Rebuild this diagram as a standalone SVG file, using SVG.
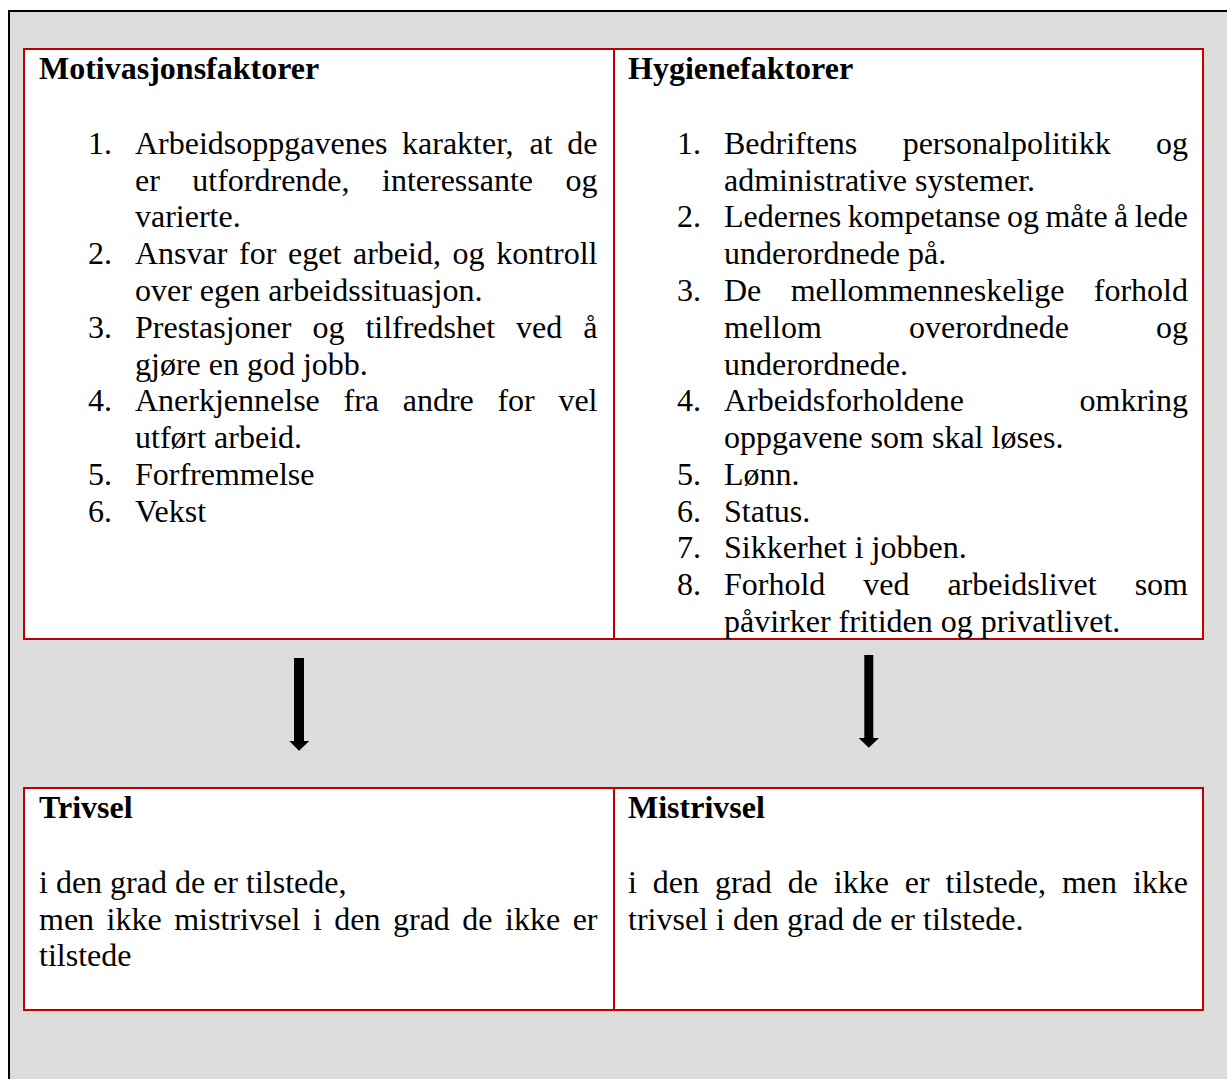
<svg xmlns="http://www.w3.org/2000/svg" width="1227" height="1079" viewBox="0 0 1227 1079">
<style>
.cell{fill:#ffffff;stroke:#c00000;stroke-width:2}
.t{font-family:"Liberation Serif","Times New Roman",serif;font-size:32px;fill:#000}
.b{font-weight:bold}
.arrow{fill:#000}
</style>
<rect x="0" y="0" width="1227" height="1079" fill="#ffffff"/>
<rect id="frame" x="9" y="11" width="1240" height="1090" fill="#dcdcdc" stroke="#000" stroke-width="2"/>

<g id="motivasjonsfaktorer">
<rect class="cell" x="24" y="49" width="590" height="590"/>
<text class="t b" x="39" y="78.7">Motivasjonsfaktorer</text>
<g transform="translate(0,1.5)">
<text class="t" x="88" y="152.3">1.</text>
<text class="t" y="152.3"><tspan x="135">Arbeidsoppgavenes</tspan><tspan x="402.05">karakter,</tspan><tspan x="529.55">at</tspan><tspan x="567.32">de</tspan></text>
<text class="t" y="189.1"><tspan x="135">er</tspan><tspan x="192.29">utfordrende,</tspan><tspan x="382">interessante</tspan><tspan x="565.5">og</tspan></text>
<text class="t" x="135" y="225.9">varierte.</text>
<text class="t" x="88" y="262.6">2.</text>
<text class="t" y="262.6"><tspan x="135">Ansvar</tspan><tspan x="239.05">for</tspan><tspan x="287.99">eget</tspan><tspan x="352.93">arbeid,</tspan><tspan x="452.53">og</tspan><tspan x="496.16">kontroll</tspan></text>
<text class="t" x="135" y="299.4">over egen arbeidssituasjon.</text>
<text class="t" x="88" y="336.2">3.</text>
<text class="t" y="336.2"><tspan x="135">Prestasjoner</tspan><tspan x="312.4">og</tspan><tspan x="365.38">tilfredshet</tspan><tspan x="516.12">ved</tspan><tspan x="583.31">å</tspan></text>
<text class="t" x="135" y="373">gjøre en god jobb.</text>
<text class="t" x="88" y="409.8">4.</text>
<text class="t" y="409.8"><tspan x="135">Anerkjennelse</tspan><tspan x="343.5">fra</tspan><tspan x="402.69">andre</tspan><tspan x="497.43">for</tspan><tspan x="558.41">vel</tspan></text>
<text class="t" x="135" y="446.5">utført arbeid.</text>
<text class="t" x="88" y="483.3">5.</text>
<text class="t" x="135" y="483.3">Forfremmelse</text>
<text class="t" x="88" y="520.1">6.</text>
<text class="t" x="135" y="520.1">Vekst</text>
</g>
</g>

<g id="hygienefaktorer">
<rect class="cell" x="614" y="49" width="589" height="590"/>
<text class="t b" x="628" y="78.7">Hygienefaktorer</text>
<g transform="translate(0,1.5)">
<text class="t" x="677" y="152.3">1.</text>
<text class="t" y="152.3"><tspan x="724">Bedriftens</tspan><tspan x="902.66">personalpolitikk</tspan><tspan x="1156">og</tspan></text>
<text class="t" x="724" y="189.1">administrative systemer.</text>
<text class="t" x="677" y="225.9">2.</text>
<text class="t" y="225.9"><tspan x="724">Ledernes</tspan><tspan x="847.71">kompetanse</tspan><tspan x="1007">og</tspan><tspan x="1045.43">måte</tspan><tspan x="1114.07">å</tspan><tspan x="1134.71">lede</tspan></text>
<text class="t" x="724" y="262.6">underordnede på.</text>
<text class="t" x="677" y="299.4">3.</text>
<text class="t" y="299.4"><tspan x="724">De</tspan><tspan x="790.67">mellommenneskelige</tspan><tspan x="1093.79">forhold</tspan></text>
<text class="t" y="336.2"><tspan x="724">mellom</tspan><tspan x="908.93">overordnede</tspan><tspan x="1156">og</tspan></text>
<text class="t" x="724" y="373">underordnede.</text>
<text class="t" x="677" y="409.8">4.</text>
<text class="t" y="409.8"><tspan x="724">Arbeidsforholdene</tspan><tspan x="1079.56">omkring</tspan></text>
<text class="t" x="724" y="446.5">oppgavene som skal løses.</text>
<text class="t" x="677" y="483.3">5.</text>
<text class="t" x="724" y="483.3">Lønn.</text>
<text class="t" x="677" y="520.1">6.</text>
<text class="t" x="724" y="520.1">Status.</text>
<text class="t" x="677" y="556.9">7.</text>
<text class="t" x="724" y="556.9">Sikkerhet i jobben.</text>
<text class="t" x="677" y="593.7">8.</text>
<text class="t" y="593.7"><tspan x="724">Forhold</tspan><tspan x="863.27">ved</tspan><tspan x="947.41">arbeidslivet</tspan><tspan x="1134.65">som</tspan></text>
<text class="t" x="724" y="630.4">påvirker fritiden og privatlivet.</text>
</g>
</g>

<g id="connectors">
<polygon class="arrow" points="294,658 304,658 304,741 309.3,741 299,750.7 289.3,741 294,741"/>
<polygon class="arrow" points="864.3,655 873.3,655 873.3,738 879,738 868.8,747.7 858.7,738 864.3,738"/>
</g>

<g id="trivsel">
<rect class="cell" x="24" y="788" width="590" height="222"/>
<text class="t b" x="39" y="817.7">Trivsel</text>
<g transform="translate(0,1.5)">
<text class="t" x="39" y="891.3">i den grad de er tilstede,</text>
<text class="t" y="928.1"><tspan x="39">men</tspan><tspan x="106.59">ikke</tspan><tspan x="174.18">mistrivsel</tspan><tspan x="312.91">i</tspan><tspan x="334.3">den</tspan><tspan x="393">grad</tspan><tspan x="462.35">de</tspan><tspan x="505.05">ikke</tspan><tspan x="572.64">er</tspan></text>
<text class="t" x="39" y="964.9">tilstede</text>
</g>
</g>

<g id="mistrivsel">
<rect class="cell" x="614" y="788" width="589" height="222"/>
<text class="t b" x="628" y="817.7">Mistrivsel</text>
<g transform="translate(0,1.5)">
<text class="t" y="891.3"><tspan x="628">i</tspan><tspan x="652.8">den</tspan><tspan x="714.91">grad</tspan><tspan x="787.67">de</tspan><tspan x="833.78">ikke</tspan><tspan x="904.78">er</tspan><tspan x="945.54">tilstede,</tspan><tspan x="1061.89">men</tspan><tspan x="1132.89">ikke</tspan></text>
<text class="t" x="628" y="928.1">trivsel i den grad de er tilstede.</text>
</g>
</g>
</svg>
